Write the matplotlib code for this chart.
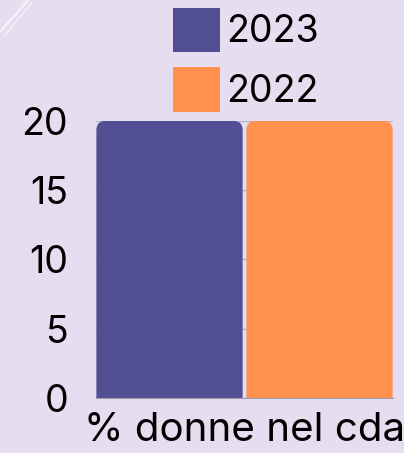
import matplotlib
matplotlib.use("Agg")
import matplotlib.pyplot as plt
from matplotlib.patches import FancyBboxPatch

categories = ["% donne nel cda"]
series = ["2023", "2022"]
values = [20, 20]
colors = ["#524E93", "#FF914D"]
yticks = [0, 5, 10, 15, 20]

plt.rcParams["font.family"] = ["Inter", "DejaVu Sans"]

fig = plt.figure(figsize=(4.04, 4.53), dpi=100)
fig.patch.set_facecolor("#E6DEF0")

# faint brush strokes in the top-left corner
for (x0, y0, x1, y1, lw) in [(0.0, 0.93, 0.07, 1.0, 1.5), (0.01, 0.92, 0.08, 0.995, 0.8)]:
    fig.add_artist(plt.Line2D([x0, x1], [y0, y1], color="white", lw=lw, alpha=0.7))

ax = fig.add_axes([0.2376, 0.1214, 0.7352, 0.6116])
ax.set_facecolor("#E6DEF0")

offsets = [-0.5, 0.5]
bars = ax.bar(offsets, values, width=0.975, color=colors, label=series, zorder=2)

# rounded top corners
ax.set_xlim(-0.99, 0.99)
ax.set_ylim(0, 20)
fig.canvas.draw()
px_x = ax.transData.transform((1, 0))[0] - ax.transData.transform((0, 0))[0]
px_y = ax.transData.transform((0, 1))[1] - ax.transData.transform((0, 0))[1]
r_px = 9
r_x = r_px / px_x
for b in bars:
    x, w, h = b.get_x(), b.get_width(), b.get_height()
    b.set_visible(False)
    extra = r_px / px_y
    p = FancyBboxPatch((x, -extra), w, h + extra,
                       boxstyle=f"round,pad=0,rounding_size={r_x}",
                       mutation_aspect=px_x / px_y,
                       facecolor=b.get_facecolor(), edgecolor="none",
                       zorder=2, clip_on=True)
    ax.add_patch(p)

ax.set_yticks(yticks)
ax.set_yticklabels([str(t) for t in yticks], fontsize=27)
ax.set_xticks([0])
ax.set_xticklabels(categories, fontsize=29)
ax.tick_params(axis="both", length=0, pad=20)
ax.tick_params(axis="x", pad=10)
ax.grid(axis="y", color="#B8B4C8", linewidth=1, zorder=1)
for s in ["top", "right", "left"]:
    ax.spines[s].set_visible(False)
ax.spines["bottom"].set_color("#9E9AAE")
ax.spines["bottom"].set_zorder(3)

handles = [plt.Rectangle((0, 0), 1, 1, facecolor=c, edgecolor="none") for c in colors]
leg = fig.legend(handles, series, loc="upper left", bbox_to_anchor=(0.41, 1.0),
                 frameon=False, fontsize=27, handlelength=1.25, handleheight=1.45,
                 handletextpad=0.15, labelspacing=0.4, borderaxespad=0,
                 borderpad=0.2)

fig.savefig("out.png", dpi=100, facecolor=fig.get_facecolor())
